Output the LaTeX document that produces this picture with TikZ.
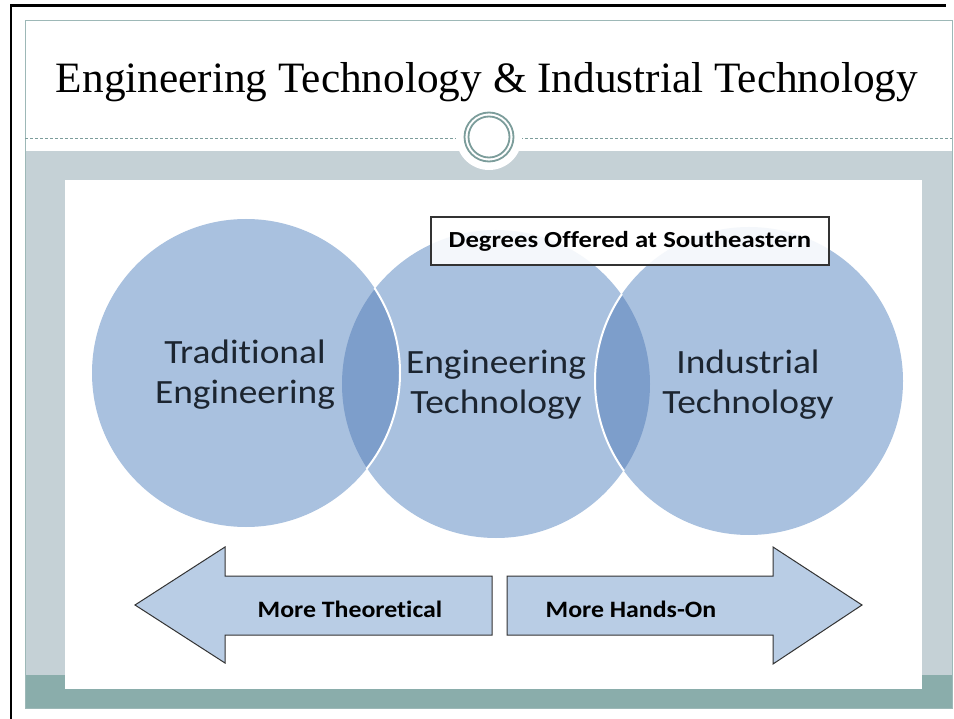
\documentclass[tikz,border=0pt]{standalone}
\usepackage{fontspec}
\setmainfont{Liberation Serif}
\newfontfamily\calfont[FakeStretch=1.1,Ligatures=NoCommon]{Carlito}
\newfontfamily\calwide[FakeStretch=1.16,Ligatures=NoCommon]{Carlito}
\definecolor{bandgrey}{HTML}{C5D1D6}
\definecolor{bandteal}{HTML}{8AADAB}
\definecolor{frameline}{HTML}{9DB8B7}
\definecolor{ringcol}{HTML}{7C9D9B}
\definecolor{circfill}{HTML}{A9C1DF}
\definecolor{lensfill}{HTML}{7D9ECB}
\definecolor{arrowfill}{HTML}{B9CDE5}
\definecolor{inktext}{HTML}{1C2530}
\tikzset{
  circlabel/.style={font=\calfont\fontsize{34}{40}\selectfont, text=inktext, align=center, inner sep=0pt},
  arrowlabel/.style={font=\calfont\bfseries\fontsize{23.5}{28}\selectfont, text=black, anchor=base, inner sep=0pt},
  bigarrow/.style={fill=arrowfill, draw=black!80, line width=1pt, line join=miter},
  venn/.style={fill=circfill},
  vennedge/.style={draw=white, line width=2pt},
}
\begin{document}
\begin{tikzpicture}[x=1pt,y=-1pt]
\useasboundingbox (0,0) rectangle (954,719);
\fill[white] (0,0) rectangle (954,719);
% black outer border
\draw[black, line width=2.2pt] (11,719) -- (11,5.5) -- (946,5.5);
% grey band and teal band
\fill[bandgrey] (25,151) rectangle (952,675);
\fill[bandteal] (25,675) rectangle (952,708);
% slide frame
\draw[frameline, line width=0.8pt] (25,20) rectangle (952,708);
% dashed separator
\draw[ringcol, line width=0.6pt, dash pattern=on 3pt off 2pt] (25,138) -- (952,138);
% ornament
\fill[white] (489,137) circle[radius=33pt];
\draw[ringcol, line width=1.8pt] (489,137) circle[radius=24.5pt];
\draw[ringcol, line width=1.8pt] (489,137) circle[radius=20.5pt];
% white content area
\fill[white] (65,180) rectangle (922,689);
% title
\node[anchor=base, inner sep=0pt, font=\fontsize{43.3}{50}\selectfont] (title) at (487,93) {Engineering Technology \& Industrial Technology};
% venn circles
\coordinate (cL) at (246,373);
\coordinate (cM) at (496,384);
\coordinate (cR) at (749,381);
\fill[venn] (cM) circle[radius=154pt];
\fill[venn] (cL) circle[radius=154pt];
\fill[venn] (cR) circle[radius=154pt];
\begin{scope}
  \clip (cM) circle[radius=154pt];
  \fill[lensfill] (cL) circle[radius=154pt];
  \fill[lensfill] (cR) circle[radius=154pt];
\end{scope}
\begin{scope}
  \clip (cM) circle[radius=155pt];
  \draw[vennedge] (cL) circle[radius=154pt];
  \draw[vennedge] (cR) circle[radius=154pt];
\end{scope}
% circle labels
\node[circlabel] (trad) at (245,375) {Traditional\\Engineering};
\node[circlabel] (engtech) at (496,385) {Engineering\\Technology};
\node[circlabel] (indtech) at (748,385) {Industrial\\Technology};
% degrees box
\node[draw=black!80, line width=1.2pt, fill=white, fill opacity=0.88, text opacity=1,
      minimum width=398pt, minimum height=48pt, inner sep=0pt,
      font=\calwide\bfseries\fontsize{23}{28}\selectfont] (degrees) at (630,241) {Degrees Offered at Southeastern};
% arrows
\draw[bigarrow] (135,605) -- (225,547) -- (225,576) -- (492,576) -- (492,635) -- (225,635) -- (225,663) -- cycle;
\draw[bigarrow] (862,605) -- (773,547) -- (773,576) -- (507,576) -- (507,635) -- (773,635) -- (773,664) -- cycle;
\node[arrowlabel] (theor) at (350,617) {More Theoretical};
\node[arrowlabel] (hands) at (631,617) {More Hands-On};
\end{tikzpicture}
\end{document}
